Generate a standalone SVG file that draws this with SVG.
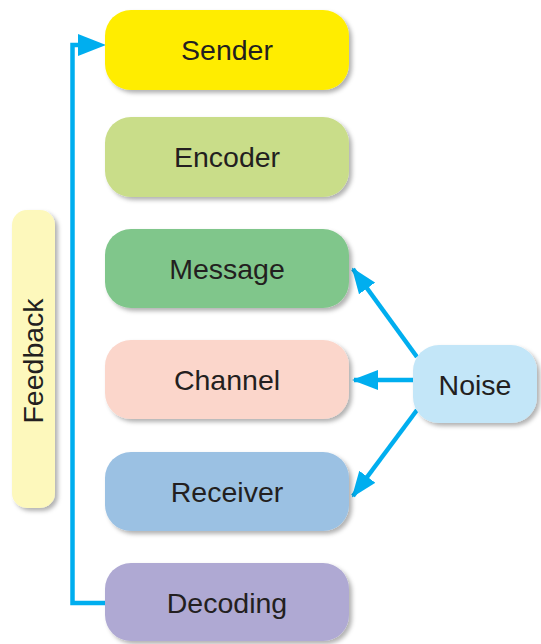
<svg xmlns="http://www.w3.org/2000/svg" width="541" height="644" viewBox="0 0 541 644">
<style>
.lbl{font-family:"Liberation Sans",Arial,sans-serif;font-size:28.5px;fill:#231F20;text-anchor:middle;dominant-baseline:central}
.box{filter:url(#sh)}
.con{stroke:#00AEEF;stroke-width:4.5;fill:none}
</style>
<defs>
<filter id="sh" x="-10%" y="-10%" width="130%" height="130%">
<feDropShadow dx="3" dy="3" stdDeviation="2" flood-color="#000" flood-opacity="0.3"/>
</filter>
<marker id="ah" viewBox="0 0 26 20" refX="24" refY="10" markerWidth="26" markerHeight="20" markerUnits="userSpaceOnUse" orient="auto">
<path d="M0,0 L26,10 L0,20 Z" fill="#00AEEF"/>
</marker>
</defs>
<g id="connectors">
<polyline class="con" points="106,603 72.5,603 72.5,45 78,45"/>
<path d="M78,34 L106,45 L78,56 Z" fill="#00AEEF"/>
<line class="con" x1="417" y1="357" x2="353" y2="269" marker-end="url(#ah)"/>
<line class="con" x1="413" y1="380" x2="354" y2="380" marker-end="url(#ah)"/>
<line class="con" x1="417" y1="410" x2="353" y2="496" marker-end="url(#ah)"/>
</g>
<g id="sender"><rect class="box" x="105" y="10" width="244" height="80" rx="26" fill="#FFED00"/><text class="lbl" x="227" y="50">Sender</text></g>
<g id="encoder"><rect class="box" x="105" y="117" width="244" height="80" rx="26" fill="#C9DD89"/><text class="lbl" x="227" y="157">Encoder</text></g>
<g id="message"><rect class="box" x="105" y="229" width="244" height="79" rx="26" fill="#80C68B"/><text class="lbl" x="227" y="269">Message</text></g>
<g id="channel"><rect class="box" x="105" y="340" width="244" height="79" rx="26" fill="#FBD6CB"/><text class="lbl" x="227" y="380">Channel</text></g>
<g id="receiver"><rect class="box" x="105" y="452" width="244" height="79" rx="26" fill="#9BC1E3"/><text class="lbl" x="227" y="492">Receiver</text></g>
<g id="decoding"><rect class="box" x="105" y="563" width="244" height="78" rx="26" fill="#AFA9D3"/><text class="lbl" x="227" y="603">Decoding</text></g>
<g id="feedback"><rect class="box" x="12" y="210" width="43" height="298" rx="15" fill="#FDF8BC"/><text class="lbl" x="0" y="0" transform="translate(33,361) rotate(-90)">Feedback</text></g>
<g id="noise"><rect class="box" x="413" y="345" width="124" height="78" rx="26" fill="#C3E6F8"/><text class="lbl" x="475" y="385">Noise</text></g>
</svg>
